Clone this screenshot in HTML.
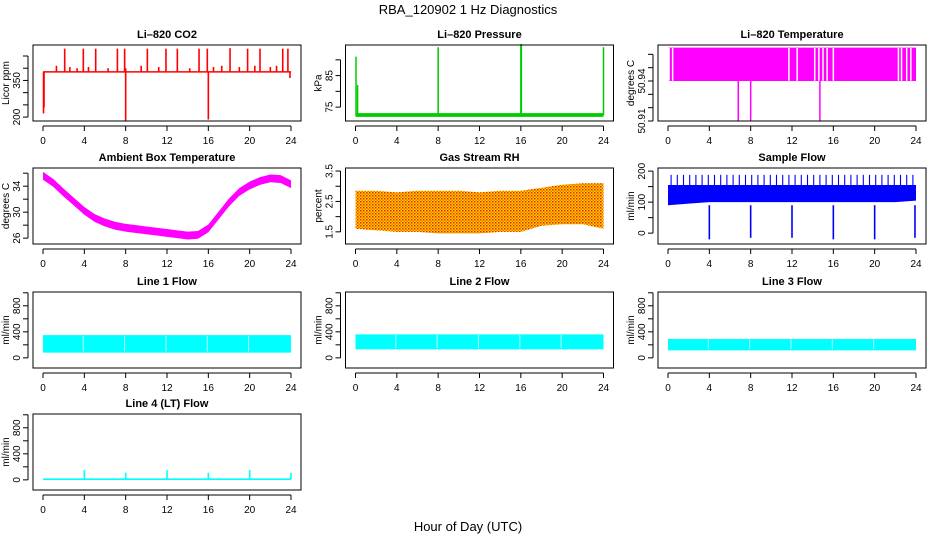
<!DOCTYPE html>
<html><head><meta charset="utf-8"><style>
body{margin:0;background:#fff}
svg{display:block;font-family:"Liberation Sans",sans-serif}
</style></head><body>
<svg id="c" width="936" height="540" xmlns="http://www.w3.org/2000/svg">
<defs>
<pattern id="rhpat" width="3" height="3" patternUnits="userSpaceOnUse">
<rect width="3" height="3" fill="#ffd800"/>
<rect width="1.5" height="1.5" fill="#e82000"/>
<rect x="1.5" y="1.5" width="1.5" height="1.5" fill="#f07000"/>
</pattern>
</defs>
<text x="468" y="14" text-anchor="middle" font-size="13">RBA_120902  1 Hz Diagnostics</text>
<text x="468" y="531" text-anchor="middle" font-size="13">Hour of Day (UTC)</text>
</svg>
<script>
// ---- data ----
const xTicks = [0,4,8,12,16,20,24];
const co2Base = 385;
const co2SpikeT = [1.3,2.1,2.6,3.3,3.9,4.4,5.1,6.3,7.2,7.9,8.0,9.5,10.1,11.2,11.9,13.0,14.2,15.1,15.9,16.5,17.3,18.1,19.0,19.8,20.5,21.0,22.0,22.6,23.2,23.7];
const co2SpikeV = [410,480,405,400,480,405,480,400,480,480,400,410,480,405,480,480,400,480,480,405,410,482,405,480,410,480,405,410,480,480];
const co2DipT = [0.05,0.1,8.0,16.0,23.9];
const co2DipV = [215,240,185,190,360];
const presBase = 72.5;
const presSpikeT = [0.05,0.2,8.0,16.0,16.05,24.0];
const presSpikeV = [91,82,94,95,95,94];
const tempHi = 50.965, tempLo = 50.94;
const tempGapT = [0.1,0.45,11.7,12.5,14.2,14.6,15.0,15.4,16.0,22.3,22.6,23.1,23.5];
const tempDropT = [6.8,8.0,14.7];
const tempDropV = [50.91,50.91,50.91];
const ambT = [0,1,2,3,4,5,6,7,8,9,10,11,12,13,14,15,16,17,18,19,20,21,22,23,24];
const ambV = [35.6,34.5,33,31.6,30.2,29.1,28.4,27.9,27.6,27.4,27.2,27.0,26.8,26.6,26.4,26.5,27.5,29.5,31.5,33.1,34.1,34.8,35.2,35.1,34.3];
const rhT = [0,2,4,6,8,10,12,14,16,18,20,22,24];
const rhLo = [1.6,1.55,1.5,1.5,1.45,1.45,1.45,1.5,1.5,1.7,1.75,1.75,1.6];
const rhHi = [2.85,2.85,2.8,2.85,2.85,2.85,2.8,2.85,2.85,2.95,3.05,3.1,3.1];
const sfT = [0,2,4,6,8,10,12,14,16,18,20,22,24];
const sfLo = [90,95,100,100,100,100,100,100,100,100,100,100,105];
const sfHi = [155,155,155,155,155,155,155,155,155,155,155,155,155];
const sfDipT = [4,8,12,16,20,23.9];
const sfDipV = [-20,-15,-15,-20,-20,-15];
const l1Lo = 80, l1Hi = 350;
const l2Lo = 130, l2Hi = 360;
const l3Lo = 115, l3Hi = 290;
const l4Base = 10;
const l4SpikeT = [4,8,12,16,20,24];
const l4SpikeV = [150,110,150,110,150,110];
const lineGapT = [4,8,12,16,20];

// ---- layout ----
const svg = document.getElementById('c');
const NS = 'http://www.w3.org/2000/svg';
const colL = [33,345.5,658], rowT = [45,168,292,414], W = 268, H = 76;
function mk(tag, at, parent){const e=document.createElementNS(NS,tag);for(const k in at)e.setAttribute(k,at[k]);(parent||svg).appendChild(e);return e;}

const panels = [
 {id:'co2',c:0,r:0,title:'Li–820 CO2',yl:'Licor ppm',y0:184,y1:495,ticks:[200,250,300,350,400,450],labs:['200','','','350','','']},
 {id:'pres',c:1,r:0,title:'Li–820 Pressure',yl:'kPa',y0:70.6,y1:94.7,ticks:[75,80,85,90],labs:['75','','85','']},
 {id:'temp',c:2,r:0,title:'Li–820 Temperature',yl:'degrees C',y0:50.91,y1:50.967,ticks:[50.91,50.92,50.93,50.94,50.95,50.96],labs:['50.91','','','50.94','','']},
 {id:'amb',c:0,r:1,title:'Ambient Box Temperature',yl:'degrees C',y0:25.1,y1:36.8,ticks:[26,28,30,32,34,36],labs:['26','','30','','34','']},
 {id:'rh',c:1,r:1,title:'Gas Stream RH',yl:'percent',y0:1.1,y1:3.6,ticks:[1.5,2,2.5,3,3.5],labs:['1.5','','2.5','','3.5']},
 {id:'sf',c:2,r:1,title:'Sample Flow',yl:'ml/min',y0:-35,y1:210,ticks:[0,50,100,150,200],labs:['0','','100','','200']},
 {id:'l1',c:0,r:2,title:'Line 1 Flow',yl:'ml/min',y0:-156,y1:1012,ticks:[0,200,400,600,800,1000],labs:['0','','400','','800','']},
 {id:'l2',c:1,r:2,title:'Line 2 Flow',yl:'ml/min',y0:-156,y1:1012,ticks:[0,200,400,600,800,1000],labs:['0','','400','','800','']},
 {id:'l3',c:2,r:2,title:'Line 3 Flow',yl:'ml/min',y0:-156,y1:1012,ticks:[0,200,400,600,800,1000],labs:['0','','400','','800','']},
 {id:'l4',c:0,r:3,title:'Line 4 (LT) Flow',yl:'ml/min',y0:-156,y1:1012,ticks:[0,200,400,600,800,1000],labs:['0','','400','','800','']}
];

panels.forEach(p=>{
 const L=colL[p.c], T=rowT[p.r];
 const g=mk('g',{});
 
 
 const xs=t=>L+10+t*(W-20)/24;
 const ys=v=>T+H-(v-p.y0)/(p.y1-p.y0)*H;
 p.xs=xs; p.ys=ys; p.g=g; p.L=L; p.T=T;
 const tt=mk('text',{x:L+W/2,y:T-7,'text-anchor':'middle','font-size':11,'font-weight':'bold'},g); tt.textContent=p.title;
 
 
 mk('line',{x1:xs(0),x2:xs(24),y1:T+H+5,y2:T+H+5,stroke:'#000'},g);
 xTicks.forEach(t=>{
  mk('line',{x1:xs(t),x2:xs(t),y1:T+H+5,y2:T+H+10,stroke:'#000'},g);
  const tx=mk('text',{x:xs(t),y:T+H+23,'text-anchor':'middle','font-size':10},g); tx.textContent=t;
  
  
 });
 mk('line',{x1:L-5,x2:L-5,y1:ys(p.ticks[0]),y2:ys(p.ticks[p.ticks.length-1]),stroke:'#000'},g);
 p.ticks.forEach((v,i)=>{
  mk('line',{x1:L-10,x2:L-5,y1:ys(v),y2:ys(v),stroke:'#000'},g);
  if(p.labs[i]){const ty=mk('text',{x:0,y:0,'text-anchor':'middle','font-size':10,transform:`translate(${L-13},${ys(v)}) rotate(-90)`},g); ty.textContent=p.labs[i];
   
   }
 });
 const yt=mk('text',{x:0,y:0,'text-anchor':'middle','font-size':10,transform:`translate(${L-24},${T+H/2}) rotate(-90)`},g); yt.textContent=p.yl;
 
 
});

function P(id){return panels.find(p=>p.id===id);}
function band(p,ts,lo,hi,color,name){
 let d='M'+ts.map((t,i)=>p.xs(t)+','+p.ys(hi[i])).join('L');
 for(let i=ts.length-1;i>=0;i--)d+='L'+p.xs(ts[i])+','+p.ys(lo[i]);
 const e=mk('path',{d:d+'Z',fill:color},p.g);
 
 
 return e;
}
function vline(p,t,a,b,color,w,name){
 const e=mk('line',{x1:p.xs(t),x2:p.xs(t),y1:p.ys(a),y2:p.ys(b),stroke:color,'stroke-width':w},p.g);
 
 
}

{const p=P('co2');
 band(p,[0,24],[co2Base-3,co2Base-3],[co2Base+3,co2Base+3],'#f00','co2-baseline');
 co2SpikeT.forEach((t,i)=>vline(p,t,co2Base,co2SpikeV[i],'#f00',1.6,'co2-spike'));
 co2DipT.forEach((t,i)=>vline(p,t,co2Base,co2DipV[i],'#f00',1.6,'co2-dip'));}
{const p=P('pres');
 band(p,[0,24],[presBase-0.6,presBase-0.6],[presBase+0.6,presBase+0.6],'#0c0','pressure-baseline');
 presSpikeT.forEach((t,i)=>vline(p,t,presBase,presSpikeV[i],'#0c0',1.5,'pressure-spike'));}
{const p=P('temp');
 band(p,[0.05,24],[tempLo,tempLo],[tempHi,tempHi],'#f0f','temperature-band');
 tempGapT.forEach(t=>vline(p,t,tempLo+0.0002,tempHi-0.0002,'#fff',1.5,'temperature-gap'));
 tempDropT.forEach((t,i)=>vline(p,t,tempLo,tempDropV[i],'#f0f',1.5,'temperature-drop'));}
{const p=P('amb');
 band(p,ambT,ambV.map(v=>v-0.6),ambV.map(v=>v+0.6),'#f0f','ambient-temp-band');}
{const p=P('rh');
 band(p,rhT,rhLo,rhHi,'url(#rhpat)','rh-band');}
{const p=P('sf');
 band(p,sfT,sfLo,sfHi,'#00f','sample-flow-band');
 for(let t=0.3;t<24;t+=0.6) vline(p,t,sfHi[0],188,'#00f',1.1,'sample-flow-spike');
 sfDipT.forEach((t,i)=>vline(p,t,sfLo[0],sfDipV[i],'#00f',1.6,'sample-flow-dip'));}
[['l1',l1Lo,l1Hi],['l2',l2Lo,l2Hi],['l3',l3Lo,l3Hi]].forEach(([id,lo,hi])=>{
 const p=P(id);
 band(p,[0,24],[lo,lo],[hi,hi],'#0ff',id+'-flow-band');
 lineGapT.forEach(t=>vline(p,t-0.1,lo+20,hi-10,'#bff',1,id+'-gap'));
});
{const p=P('l4');
 band(p,[0,24],[l4Base-12,l4Base-12],[l4Base+12,l4Base+12],'#0ff','l4-flow-baseline');
 l4SpikeT.forEach((t,i)=>vline(p,t,l4Base,l4SpikeV[i],'#0ff',1.6,'l4-flow-spike'));}

panels.forEach(p=>{
 const b=mk('rect',{x:p.L,y:p.T,width:W,height:H,fill:'none',stroke:'#000'},p.g);
 
 
});
</script>
</body></html>
